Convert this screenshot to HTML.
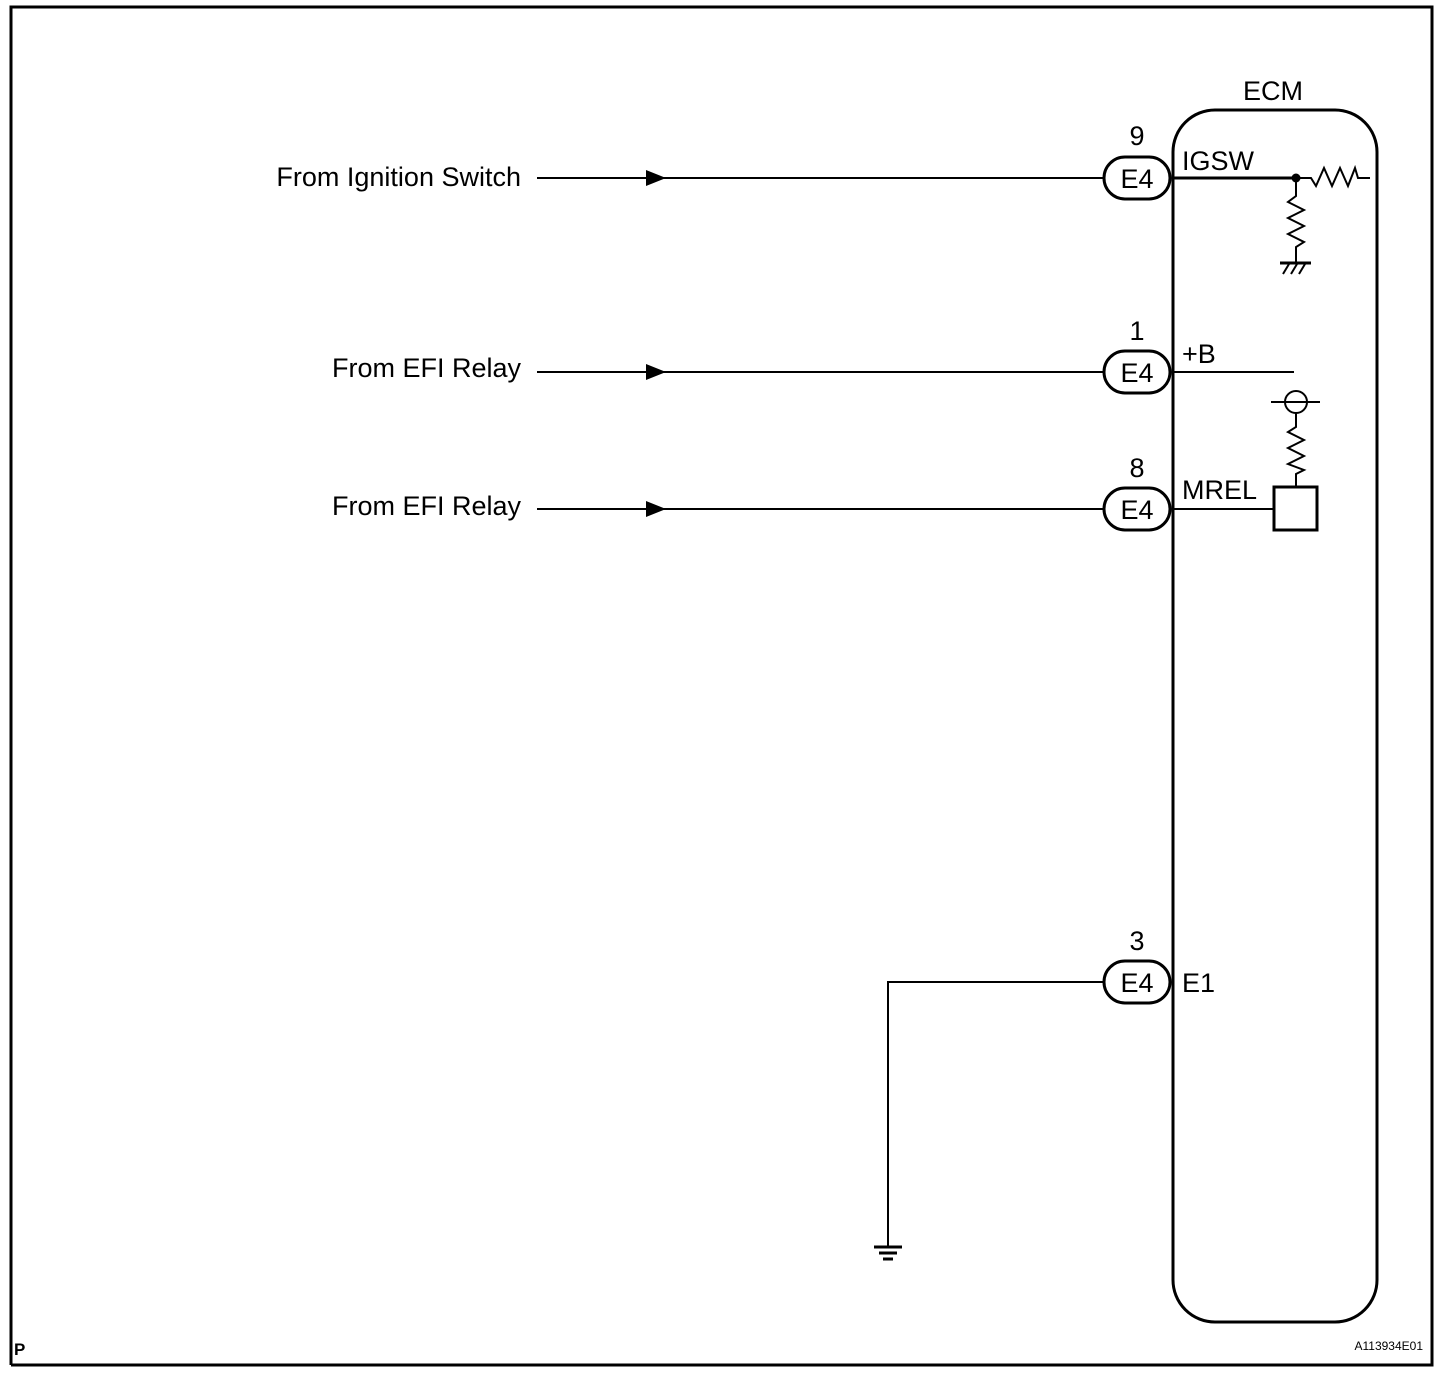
<!DOCTYPE html>
<html><head><meta charset="utf-8"><style>
html,body{margin:0;padding:0;background:#fff;}
svg{display:block;}
text{font-family:"Liberation Sans",Arial,sans-serif;fill:#000;}
</style></head><body>
<svg width="1456" height="1378" viewBox="0 0 1456 1378" xmlns="http://www.w3.org/2000/svg">
<rect x="0" y="0" width="1456" height="1378" fill="#fff"/>
<polyline points="11,1365 11,7 1432,7 1432,1365 11,1365" fill="none" stroke="#000" stroke-width="3"/>
<text x="14" y="1355" font-size="17" font-weight="bold">P</text>
<text x="1423" y="1350" font-size="12" text-anchor="end">A113934E01</text>

<!-- ECM -->
<rect x="1173" y="110" width="204" height="1212" rx="42" ry="42" fill="none" stroke="#000" stroke-width="3"/>
<text x="1273" y="100" font-size="27" text-anchor="middle">ECM</text>

<g stroke="#000" stroke-width="2" fill="none">
  <line x1="537" y1="178" x2="1104" y2="178"/>
  <line x1="537" y1="372" x2="1104" y2="372"/>
  <line x1="537" y1="509" x2="1104" y2="509"/>
  <polyline points="1104,982 888,982 888,1246"/>
  <line x1="874" y1="1247" x2="902" y2="1247" stroke-width="3"/>
  <line x1="879" y1="1253" x2="897" y2="1253" stroke-width="3"/>
  <line x1="883" y1="1259" x2="893" y2="1259" stroke-width="3"/>
  <rect x="1104" y="157" width="66" height="42" rx="21" stroke-width="3"/>
  <rect x="1104" y="351" width="66" height="42" rx="21" stroke-width="3"/>
  <rect x="1104" y="488" width="66" height="42" rx="21" stroke-width="3"/>
  <rect x="1104" y="961" width="66" height="42" rx="21" stroke-width="3"/>
  <line x1="1173" y1="178" x2="1296" y2="178" stroke-width="3"/>
  <polyline points="1296,178 1311,178 1316,186 1324,168 1332,186 1340,168 1348,186 1355,168 1358,178 1370,178"/>
  <polyline points="1296,178 1296,196 1288,202 1304,210 1288,218 1304,226 1288,234 1304,242 1296,247 1296,262"/>
  <line x1="1280" y1="263" x2="1311" y2="263" stroke-width="3"/>
  <line x1="1283" y1="274" x2="1289" y2="264"/>
  <line x1="1291" y1="274" x2="1297" y2="264"/>
  <line x1="1299" y1="274" x2="1305" y2="264"/>
  <line x1="1173" y1="372" x2="1294" y2="372"/>
  <circle cx="1296" cy="402" r="11"/>
  <line x1="1271" y1="402" x2="1320" y2="402"/>
  <polyline points="1296,413 1296,427 1288,432 1304,440 1288,448 1304,456 1288,464 1304,470 1296,474 1296,487"/>
  <rect x="1274" y="487" width="43" height="43" stroke-width="3"/>
  <line x1="1173" y1="509" x2="1274" y2="509"/>
</g>
<circle cx="1296" cy="178" r="4.5" fill="#000"/>
<g fill="#000">
  <polygon points="646,170 666,178 646,186"/>
  <polygon points="646,364 666,372 646,380"/>
  <polygon points="646,501 666,509 646,517"/>
</g>

<g font-size="27">
  <text x="521" y="186" text-anchor="end">From Ignition Switch</text>
  <text x="521" y="377" text-anchor="end">From EFI Relay</text>
  <text x="521" y="515" text-anchor="end">From EFI Relay</text>
  <text x="1137" y="188" text-anchor="middle">E4</text>
  <text x="1137" y="382" text-anchor="middle">E4</text>
  <text x="1137" y="519" text-anchor="middle">E4</text>
  <text x="1137" y="992" text-anchor="middle">E4</text>
  <text x="1137" y="145" text-anchor="middle">9</text>
  <text x="1137" y="340" text-anchor="middle">1</text>
  <text x="1137" y="477" text-anchor="middle">8</text>
  <text x="1137" y="950" text-anchor="middle">3</text>
  <text x="1182" y="170">IGSW</text>
  <text x="1182" y="363">+B</text>
  <text x="1182" y="499">MREL</text>
  <text x="1182" y="992">E1</text>
</g>
</svg>
</body></html>
